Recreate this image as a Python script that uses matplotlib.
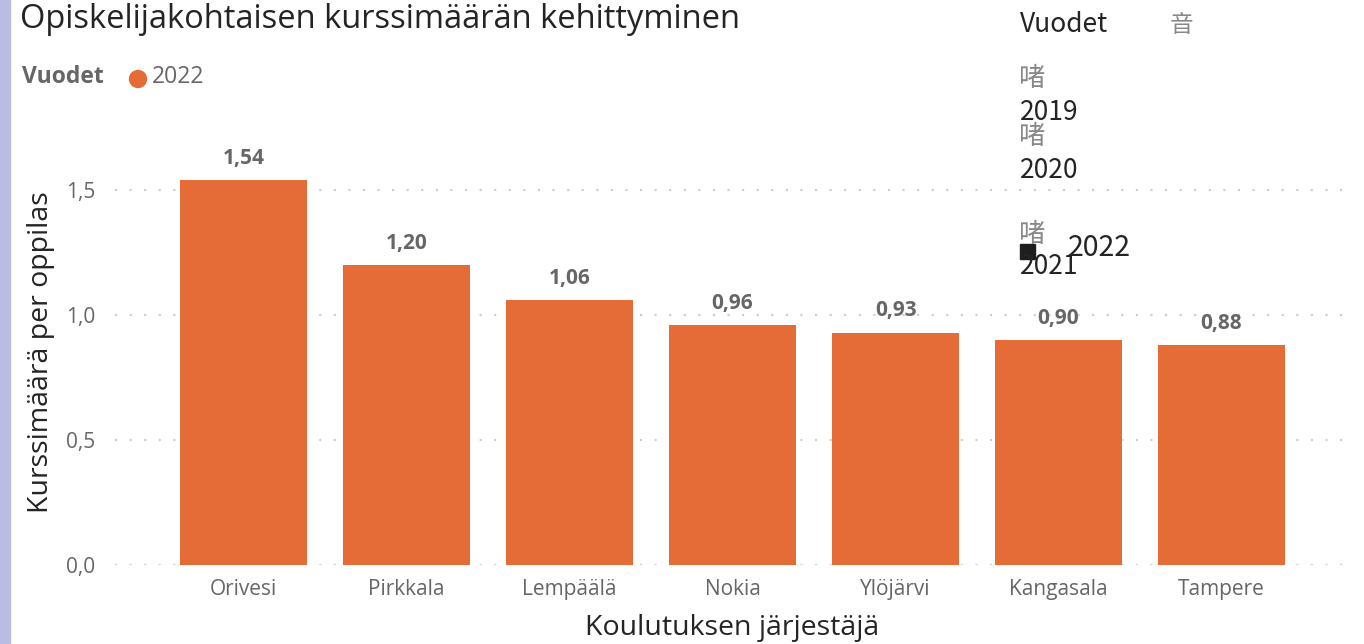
import matplotlib
matplotlib.use("Agg")
import matplotlib.pyplot as plt
from matplotlib.patches import Rectangle, Ellipse

# ─── Data ─────────────────────────────────────────────────────────────────────

providers = ['Orivesi', 'Pirkkala', 'Lempäälä', 'Nokia', 'Ylöjärvi', 'Kangasala', 'Tampere']
courses_2022 = [1.54, 1.20, 1.06, 0.96, 0.93, 0.90, 0.88]
y_ticks = [0.0, 0.5, 1.0, 1.5]
slicer_years = ['2019', '2020', '2021']
selected_year = '2022'

BAR = '#E66C37'
GREY = '#666666'
DARK = '#252423'

plt.rcParams['font.family'] = ['Open Sans', 'DejaVu Sans']

fig = plt.figure(figsize=(13.64, 6.44), dpi=100)
W, H = 1364, 644

# purple strip at left edge
fig.patches.append(Rectangle((0, 0), 10 / W, 1, transform=fig.transFigure,
                             color='#B9BDE3', zorder=0))

# plot area: x 115..1350 px, y 140..565 px
ax = fig.add_axes([115 / W, (H - 565) / H, 1235 / W, 425 / H])
x = list(range(len(providers)))
bars = ax.bar(x, courses_2022, width=0.78, color=BAR, zorder=2)
ax.set_xlim(-0.788, 6.788)
ax.set_ylim(0, 1.7)

ax.set_yticks(y_ticks)
ax.set_yticklabels([f"{v:.1f}".replace('.', ',') for v in y_ticks])
ax.set_xticks(x)
ax.set_xticklabels(providers)
ax.tick_params(axis='both', length=0, labelsize=15, labelcolor=GREY)
ax.tick_params(axis='y', pad=14)
ax.tick_params(axis='x', pad=10)
ax.grid(axis='y', color='#CCCCCC', linestyle=(0, (1, 6)), linewidth=1.5, zorder=1)
for s in ax.spines.values():
    s.set_visible(False)

for b, v in zip(bars, courses_2022):
    ax.annotate(f"{v:.2f}".replace('.', ','), (b.get_x() + b.get_width() / 2, v),
                xytext=(0, 8), textcoords='offset points', ha='center', va='bottom',
                fontsize=15, fontweight='bold', color=GREY)

ax.set_ylabel('Kurssimäärä per oppilas', fontsize=20.5, color=DARK, labelpad=8)
ax.set_xlabel('Koulutuksen järjestäjä', fontsize=20.5, color=DARK, labelpad=10)

# title and legend
fig.text(20 / W, 1 - 20 / H, 'Opiskelijakohtaisen kurssimäärän kehittyminen',
         fontsize=23.5, color=DARK, va='center', ha='left')
fig.text(22 / W, 1 - 77 / H, 'Vuodet', fontsize=16.5, fontweight='bold', color=GREY,
         va='center', ha='left')
fig.patches.append(Ellipse((138 / W, 1 - 79 / H), 17 / W, 17 / H,
                           transform=fig.transFigure, color=BAR))
fig.text(152 / W, 1 - 77 / H, selected_year, fontsize=16.5, color=GREY, va='center', ha='left')

# overlapping slicer panel (broken glyph rendering)
cjk = ['Noto Sans CJK SC', 'DejaVu Sans']
fig.text(1020 / W, 1 - 24 / H, 'Vuodet', fontsize=19, color=DARK, va='center', family=cjk)
fig.text(1170 / W, 1 - 25 / H, '音', fontsize=17, color='#888888', va='center', family=cjk)
glyph_y = [78, 137, 234]
year_y = [112, 171, 266]
for gy, yy, yr in zip(glyph_y, year_y, slicer_years):
    fig.text(1019 / W, 1 - gy / H, '啫', fontsize=19, color='#888888', va='center', family=cjk)
    fig.text(1020 / W, 1 - yy / H, yr, fontsize=19, color=DARK, va='center', family=cjk)
fig.patches.append(Rectangle((1020 / W, 1 - 259 / H), 15 / W, 15 / H,
                             transform=fig.transFigure, color='#1E1E1E'))
fig.text(1068 / W, 1 - 248 / H, selected_year, fontsize=20.5, color=DARK, va='center', family=cjk)

fig.savefig('out.png', dpi=100)
